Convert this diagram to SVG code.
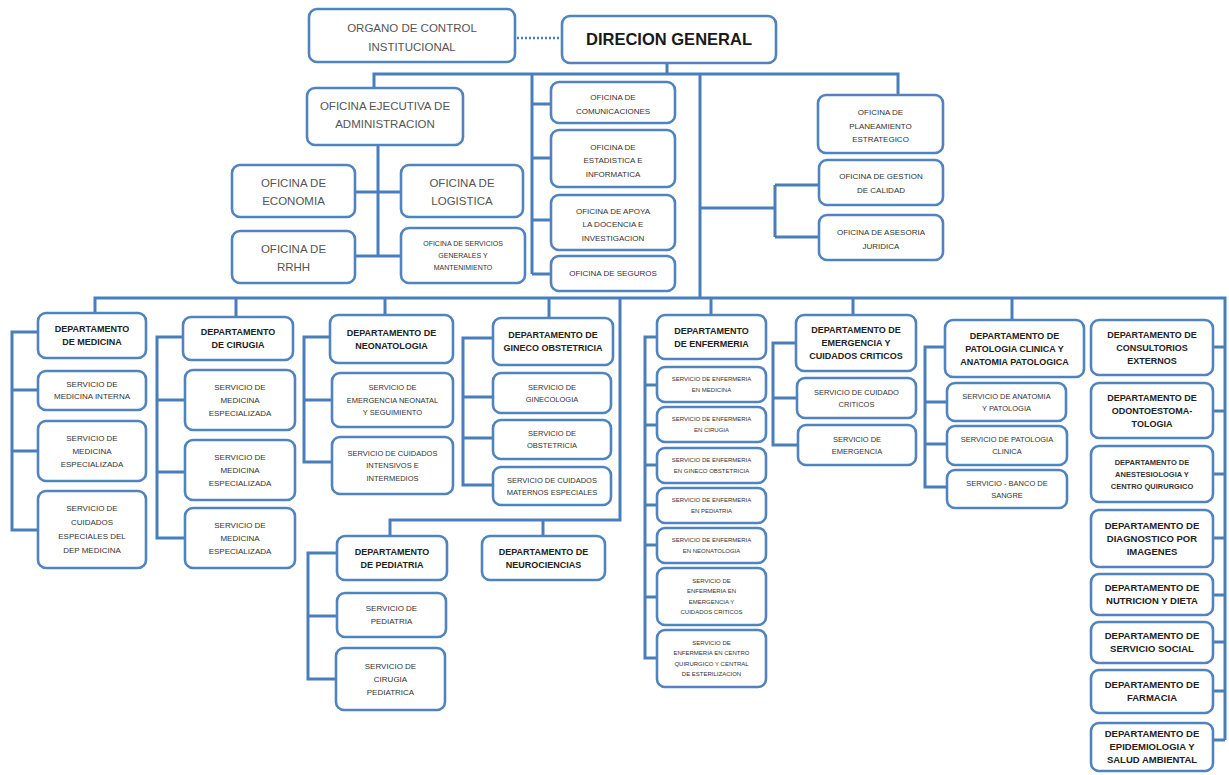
<svg xmlns="http://www.w3.org/2000/svg" width="1229" height="775" viewBox="0 0 1229 775">
<style>
.bx{fill:#fff;stroke:#5083bf;stroke-width:2.6}
.ln{fill:none;stroke:#4a7ebb;stroke-width:3}
.dot{fill:none;stroke:#4a7ebb;stroke-width:2.5;stroke-dasharray:2 2}
text{font-family:"Liberation Sans",Arial,sans-serif;text-anchor:middle;fill:#333}
.h1{font-size:16.5px;font-weight:bold;fill:#1a1a1a}
.t11{font-size:11.5px;fill:#555}
.t8{font-size:8px}
.t7{font-size:7px}
.s75{font-size:7.5px}
.s8{font-size:8px}
.s6{font-size:6px}
.dp{font-size:9px;font-weight:bold;fill:#222}
.dr{font-size:9.5px;font-weight:bold;fill:#222}
.ds{font-size:7.5px;font-weight:bold;fill:#333}
</style>
<rect width="1229" height="775" fill="#fff"/>

<g id="connectors">
<path class="dot" d="M517,38 H560"/>
<path class="ln" d="M667,63 V74 M374,88 V74 H898 V95
M378,145 V256 M355,192 H401 M355,256 H401
M532,74 V274 M532,104 H551 M532,158 H551 M532,220 H551 M532,274 H551
M700,74 V298 M700,208 H775 M775,185 V237 M775,185 H819 M775,237 H819
M95,313 V298 H1225 V740
M236,298 V317 M385,298 V315 M549,298 V318 M711,298 V315 M853,298 V315 M1012,298 V320
M620,298 V520 H390 V536 M543,520 V536
M38,332 H12 V530 H38 M12,390 H38 M12,451 H38
M183,337 H157 V538 H185 M157,400 H185 M157,472 H185
M330,337 H304 V462 H332 M304,400 H332
M493,338 H463 V485 H493 M463,397 H493 M463,438 H493
M657,337 H645 V658 H657 M645,385 H657 M645,425 H657 M645,465 H657 M645,505 H657 M645,545 H657 M645,597 H657
M796,343 H773 V445 H798 M773,398 H797
M945,347 H925 V487 H947 M925,402 H947 M925,444 H947
M337,553 H308 V679 H336 M308,616 H337
M1213,347 H1225 M1213,411 H1225 M1213,474 H1225 M1213,538 H1225 M1213,595 H1225 M1213,642 H1225 M1213,691 H1225 M1213,740 H1225"/>
</g>

<!-- top level -->
<g id="organo-control"><rect class="bx" x="309" y="9" width="206" height="53" rx="8"/>
<text class="t11" x="412" y="32">ORGANO DE CONTROL</text><text class="t11" x="412" y="51">INSTITUCIONAL</text></g>
<g id="direccion-general"><rect class="bx" x="562" y="16" width="214" height="47" rx="8"/>
<text class="h1" x="669" y="45">DIRECION GENERAL</text></g>

<g id="oea"><rect class="bx" x="307" y="88" width="156" height="57" rx="8"/>
<text class="t11" x="385" y="110">OFICINA EJECUTIVA DE</text><text class="t11" x="385" y="128">ADMINISTRACION</text></g>
<g id="economia"><rect class="bx" x="232" y="165" width="123" height="52" rx="8"/>
<text class="t11" x="293.5" y="187">OFICINA DE</text><text class="t11" x="293.5" y="205">ECONOMIA</text></g>
<g id="rrhh"><rect class="bx" x="232" y="231" width="123" height="52" rx="8"/>
<text class="t11" x="293.5" y="253">OFICINA DE</text><text class="t11" x="293.5" y="271">RRHH</text></g>
<g id="logistica"><rect class="bx" x="401" y="165" width="122" height="52" rx="8"/>
<text class="t11" x="462" y="187">OFICINA DE</text><text class="t11" x="462" y="205">LOGISTICA</text></g>
<g id="servicios-generales"><rect class="bx" x="401" y="228" width="124" height="55" rx="8"/>
<text class="t7" x="463" y="245.5">OFICINA DE SERVICIOS</text><text class="t7" x="463" y="257.5">GENERALES Y</text><text class="t7" x="463" y="269.5">MANTENIMIENTO</text></g>

<g id="comunicaciones"><rect class="bx" x="551" y="82" width="124" height="41" rx="8"/>
<text class="t8" x="613" y="100">OFICINA DE</text><text class="t8" x="613" y="114">COMUNICACIONES</text></g>
<g id="estadistica"><rect class="bx" x="551" y="130" width="124" height="57" rx="8"/>
<text class="t8" x="613" y="149.5">OFICINA DE</text><text class="t8" x="613" y="163">ESTADISTICA E</text><text class="t8" x="613" y="176.5">INFORMATICA</text></g>
<g id="apoyo-docencia"><rect class="bx" x="551" y="195" width="124" height="55" rx="8"/>
<text class="t8" x="613" y="213.5">OFICINA DE APOYA</text><text class="t8" x="613" y="227">LA DOCENCIA E</text><text class="t8" x="613" y="240.5">INVESTIGACION</text></g>
<g id="seguros"><rect class="bx" x="551" y="256" width="124" height="35" rx="8"/>
<text class="t8" x="613" y="275.5">OFICINA DE SEGUROS</text></g>

<g id="planeamiento"><rect class="bx" x="818" y="95" width="125" height="58" rx="8"/>
<text class="t8" x="880.5" y="114.5">OFICINA DE</text><text class="t8" x="880.5" y="128.5">PLANEAMIENTO</text><text class="t8" x="880.5" y="141.5">ESTRATEGICO</text></g>
<g id="calidad"><rect class="bx" x="819" y="160" width="124" height="45" rx="8"/>
<text class="t8" x="881" y="178.5">OFICINA DE GESTION</text><text class="t8" x="881" y="192.5">DE CALIDAD</text></g>
<g id="asesoria"><rect class="bx" x="819" y="215" width="124" height="45" rx="8"/>
<text class="t8" x="881" y="234.5">OFICINA DE ASESORIA</text><text class="t8" x="881" y="248.5">JURIDICA</text></g>

<!-- medicina -->
<g id="dep-medicina"><rect class="bx" x="38" y="313" width="108" height="45" rx="8"/>
<text class="dp" x="92" y="332.2">DEPARTAMENTO</text><text class="dp" x="92" y="345.2">DE MEDICINA</text></g>
<g id="svc-medicina-interna"><rect class="bx" x="38" y="371" width="108" height="39" rx="8"/>
<text class="s8" x="92" y="387.3">SERVICIO DE</text><text class="s8" x="92" y="399.3">MEDICINA INTERNA</text></g>
<g id="svc-medicina-especializada"><rect class="bx" x="38" y="421" width="108" height="60" rx="8"/>
<text class="s8" x="92" y="440.8">SERVICIO DE</text><text class="s8" x="92" y="453.8">MEDICINA</text><text class="s8" x="92" y="466.8">ESPECIALIZADA</text></g>
<g id="svc-cuidados-especiales"><rect class="bx" x="38" y="491" width="108" height="77" rx="8"/>
<text class="s8" x="92" y="511.3">SERVICIO DE</text><text class="s8" x="92" y="525.3">CUIDADOS</text><text class="s8" x="92" y="539.3">ESPECIALES DEL</text><text class="s8" x="92" y="553.3">DEP MEDICINA</text></g>

<!-- cirugia -->
<g id="dep-cirugia"><rect class="bx" x="183" y="317" width="110" height="43" rx="8"/>
<text class="dp" x="238" y="335.2">DEPARTAMENTO</text><text class="dp" x="238" y="348.2">DE CIRUGIA</text></g>
<g id="svc-cirugia-1"><rect class="bx" x="185" y="370" width="110" height="60" rx="8"/>
<text class="s8" x="240" y="389.8">SERVICIO DE</text><text class="s8" x="240" y="402.8">MEDICINA</text><text class="s8" x="240" y="415.8">ESPECIALIZADA</text></g>
<g id="svc-cirugia-2"><rect class="bx" x="185" y="440" width="110" height="60" rx="8"/>
<text class="s8" x="240" y="459.8">SERVICIO DE</text><text class="s8" x="240" y="472.8">MEDICINA</text><text class="s8" x="240" y="485.8">ESPECIALIZADA</text></g>
<g id="svc-cirugia-3"><rect class="bx" x="185" y="508" width="110" height="60" rx="8"/>
<text class="s8" x="240" y="527.8">SERVICIO DE</text><text class="s8" x="240" y="540.8">MEDICINA</text><text class="s8" x="240" y="553.8">ESPECIALIZADA</text></g>

<!-- neonatologia -->
<g id="dep-neonatologia"><rect class="bx" x="330" y="315" width="123" height="48" rx="8"/>
<text class="dp" x="391.5" y="335.7">DEPARTAMENTO DE</text><text class="dp" x="391.5" y="348.7">NEONATOLOGIA</text></g>
<g id="svc-emergencia-neonatal"><rect class="bx" x="332" y="373" width="121" height="54" rx="8"/>
<text class="s75" x="392.5" y="390.1">SERVICIO DE</text><text class="s75" x="392.5" y="402.6">EMERGENCIA NEONATAL</text><text class="s75" x="392.5" y="415.1">Y SEGUIMIENTO</text></g>
<g id="svc-cuidados-intensivos"><rect class="bx" x="332" y="437" width="121" height="57" rx="8"/>
<text class="s75" x="392.5" y="455.6">SERVICIO DE CUIDADOS</text><text class="s75" x="392.5" y="468.1">INTENSIVOS E</text><text class="s75" x="392.5" y="480.6">INTERMEDIOS</text></g>

<!-- gineco obstetricia -->
<g id="dep-gineco"><rect class="bx" x="493" y="318" width="120" height="47" rx="8"/>
<text class="dp" x="553" y="338.2">DEPARTAMENTO DE</text><text class="dp" x="553" y="351.2">GINECO OBSTETRICIA</text></g>
<g id="svc-ginecologia"><rect class="bx" x="493" y="373" width="118" height="40" rx="8"/>
<text class="s75" x="552" y="389.6">SERVICIO DE</text><text class="s75" x="552" y="401.6">GINECOLOGIA</text></g>
<g id="svc-obstetricia"><rect class="bx" x="493" y="420" width="118" height="39" rx="8"/>
<text class="s75" x="552" y="436.1">SERVICIO DE</text><text class="s75" x="552" y="448.1">OBSTETRICIA</text></g>
<g id="svc-maternos"><rect class="bx" x="493" y="467" width="118" height="38" rx="8"/>
<text class="s75" x="552" y="482.6">SERVICIO DE CUIDADOS</text><text class="s75" x="552" y="494.6">MATERNOS ESPECIALES</text></g>

<!-- enfermeria -->
<g id="dep-enfermeria"><rect class="bx" x="657" y="315" width="109" height="44" rx="8"/>
<text class="dp" x="711.5" y="333.7">DEPARTAMENTO</text><text class="dp" x="711.5" y="346.7">DE ENFERMERIA</text></g>
<g id="enf-medicina"><rect class="bx" x="657" y="367" width="109" height="35" rx="8"/>
<text class="s6" x="711.5" y="381.4">SERVICIO DE ENFERMERIA</text><text class="s6" x="711.5" y="391.9">EN MEDICINA</text></g>
<g id="enf-cirugia"><rect class="bx" x="657" y="407" width="109" height="35" rx="8"/>
<text class="s6" x="711.5" y="421.4">SERVICIO DE ENFERMERIA</text><text class="s6" x="711.5" y="431.9">EN CIRUGIA</text></g>
<g id="enf-gineco"><rect class="bx" x="657" y="448" width="109" height="35" rx="8"/>
<text class="s6" x="711.5" y="462.4">SERVICIO DE ENFERMERIA</text><text class="s6" x="711.5" y="472.9">EN GINECO OBSTETRICIA</text></g>
<g id="enf-pediatria"><rect class="bx" x="657" y="488" width="109" height="35" rx="8"/>
<text class="s6" x="711.5" y="502.4">SERVICIO DE ENFERMERIA</text><text class="s6" x="711.5" y="512.9">EN PEDIATRIA</text></g>
<g id="enf-neonatologia"><rect class="bx" x="657" y="528" width="109" height="35" rx="8"/>
<text class="s6" x="711.5" y="542.4">SERVICIO DE ENFERMERIA</text><text class="s6" x="711.5" y="552.9">EN NEONATOLOGIA</text></g>
<g id="enf-emergencia"><rect class="bx" x="657" y="568" width="109" height="57" rx="8"/>
<text class="s6" x="711.5" y="582.9">SERVICIO DE</text><text class="s6" x="711.5" y="593.4">ENFERMERIA EN</text><text class="s6" x="711.5" y="603.9">EMERGENCIA Y</text><text class="s6" x="711.5" y="614.4">CUIDADOS CRITICOS</text></g>
<g id="enf-centro-quirurgico"><rect class="bx" x="657" y="630" width="109" height="57" rx="8"/>
<text class="s6" x="711.5" y="644.9">SERVICIO DE</text><text class="s6" x="711.5" y="655.4">ENFERMERIA EN CENTRO</text><text class="s6" x="711.5" y="665.9">QUIRURGICO Y CENTRAL</text><text class="s6" x="711.5" y="676.4">DE ESTERILIZACION</text></g>

<!-- emergencia -->
<g id="dep-emergencia"><rect class="bx" x="796" y="315" width="120" height="56" rx="8"/>
<text class="dp" x="856" y="333.2">DEPARTAMENTO DE</text><text class="dp" x="856" y="346.2">EMERGENCIA Y</text><text class="dp" x="856" y="359.2">CUIDADOS CRITICOS</text></g>
<g id="svc-cuidado-criticos"><rect class="bx" x="797" y="378" width="119" height="40" rx="8"/>
<text class="s75" x="856.5" y="394.6">SERVICIO DE CUIDADO</text><text class="s75" x="856.5" y="406.6">CRITICOS</text></g>
<g id="svc-emergencia"><rect class="bx" x="798" y="425" width="118" height="40" rx="8"/>
<text class="s75" x="857" y="441.6">SERVICIO DE</text><text class="s75" x="857" y="453.6">EMERGENCIA</text></g>

<!-- patologia -->
<g id="dep-patologia"><rect class="bx" x="945" y="320" width="139" height="57" rx="8"/>
<text class="dp" x="1014.5" y="338.7">DEPARTAMENTO DE</text><text class="dp" x="1014.5" y="351.7">PATOLOGIA CLINICA Y</text><text class="dp" x="1014.5" y="364.7">ANATOMIA PATOLOGICA</text></g>
<g id="svc-anatomia"><rect class="bx" x="947" y="383" width="119" height="38" rx="8"/>
<text class="s75" x="1006.5" y="398.6">SERVICIO DE ANATOMIA</text><text class="s75" x="1006.5" y="410.6">Y PATOLOGIA</text></g>
<g id="svc-patologia-clinica"><rect class="bx" x="947" y="426" width="120" height="39" rx="8"/>
<text class="s75" x="1007" y="442.1">SERVICIO DE PATOLOGIA</text><text class="s75" x="1007" y="454.1">CLINICA</text></g>
<g id="svc-banco-sangre"><rect class="bx" x="947" y="470" width="120" height="38" rx="8"/>
<text class="s75" x="1007" y="485.6">SERVICIO - BANCO DE</text><text class="s75" x="1007" y="497.6">SANGRE</text></g>

<!-- right column -->
<g id="dep-consultorios"><rect class="bx" x="1091" y="320" width="122" height="55" rx="8"/>
<text class="dp" x="1152" y="337.7">DEPARTAMENTO DE</text><text class="dp" x="1152" y="350.7">CONSULTORIOS</text><text class="dp" x="1152" y="363.7">EXTERNOS</text></g>
<g id="dep-odonto"><rect class="bx" x="1091" y="383" width="122" height="55" rx="8"/>
<text class="dp" x="1152" y="400.7">DEPARTAMENTO DE</text><text class="dp" x="1152" y="413.7">ODONTOESTOMA-</text><text class="dp" x="1152" y="426.7">TOLOGIA</text></g>
<g id="dep-anestesiologia"><rect class="bx" x="1091" y="446" width="122" height="56" rx="8"/>
<text class="ds" x="1152" y="464.6">DEPARTAMENTO DE</text><text class="ds" x="1152" y="476.6">ANESTESIOLOGIA Y</text><text class="ds" x="1152" y="488.6">CENTRO QUIRURGICO</text></g>
<g id="dep-diagnostico"><rect class="bx" x="1091" y="510" width="122" height="57" rx="8"/>
<text class="dr" x="1152" y="528.7">DEPARTAMENTO DE</text><text class="dr" x="1152" y="541.7">DIAGNOSTICO POR</text><text class="dr" x="1152" y="554.7">IMAGENES</text></g>
<g id="dep-nutricion"><rect class="bx" x="1091" y="574" width="122" height="41" rx="8"/>
<text class="dr" x="1152" y="591.2">DEPARTAMENTO DE</text><text class="dr" x="1152" y="604.2">NUTRICION Y DIETA</text></g>
<g id="dep-servicio-social"><rect class="bx" x="1091" y="622" width="122" height="41" rx="8"/>
<text class="dr" x="1152" y="639.2">DEPARTAMENTO DE</text><text class="dr" x="1152" y="652.2">SERVICIO SOCIAL</text></g>
<g id="dep-farmacia"><rect class="bx" x="1091" y="670" width="122" height="43" rx="8"/>
<text class="dr" x="1152" y="688.2">DEPARTAMENTO DE</text><text class="dr" x="1152" y="701.2">FARMACIA</text></g>
<g id="dep-epidemiologia"><rect class="bx" x="1091" y="723" width="122" height="48" rx="8"/>
<text class="dr" x="1152" y="737.2">DEPARTAMENTO DE</text><text class="dr" x="1152" y="750.2">EPIDEMIOLOGIA Y</text><text class="dr" x="1152" y="763.2">SALUD AMBIENTAL</text></g>

<!-- pediatria / neurociencias -->
<g id="dep-pediatria"><rect class="bx" x="337" y="536" width="110" height="44" rx="8"/>
<text class="dp" x="392" y="554.7">DEPARTAMENTO</text><text class="dp" x="392" y="567.7">DE PEDIATRIA</text></g>
<g id="svc-pediatria"><rect class="bx" x="337" y="593" width="109" height="44" rx="8"/>
<text class="s8" x="391.5" y="611.3">SERVICIO DE</text><text class="s8" x="391.5" y="624.3">PEDIATRIA</text></g>
<g id="svc-cirugia-pediatrica"><rect class="bx" x="336" y="648" width="109" height="62" rx="8"/>
<text class="s8" x="390.5" y="668.8">SERVICIO DE</text><text class="s8" x="390.5" y="681.8">CIRUGIA</text><text class="s8" x="390.5" y="694.8">PEDIATRICA</text></g>
<g id="dep-neurociencias"><rect class="bx" x="482" y="536" width="123" height="44" rx="8"/>
<text class="dp" x="543.5" y="554.7">DEPARTAMENTO DE</text><text class="dp" x="543.5" y="567.7">NEUROCIENCIAS</text></g>
</svg>
